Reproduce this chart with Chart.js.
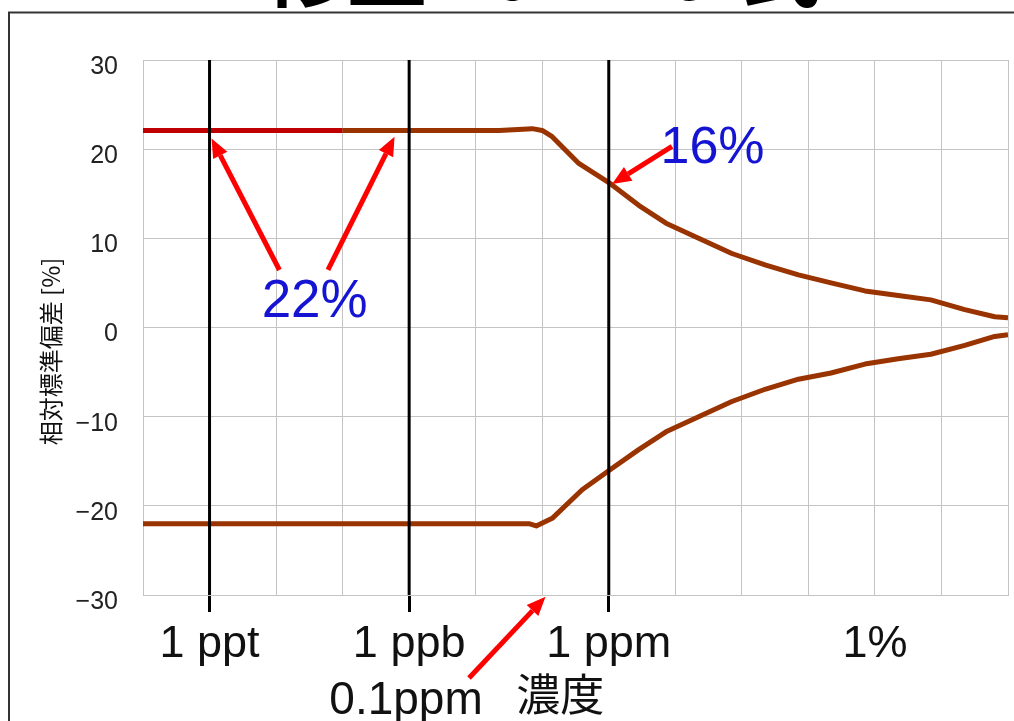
<!DOCTYPE html>
<html>
<head>
<meta charset="utf-8">
<script src="https://cdn.jsdelivr.net/npm/chart.js@4.4.1/dist/chart.umd.min.js"></script>
<style>
  html, body { margin: 0; padding: 0; background: #fff; }
  canvas { display: block; }
</style>
</head>
<body>
<canvas id="rsdChart" width="1014" height="721"></canvas>
<script>
// x = log10 of concentration (mass fraction): -12 = 1 ppt, -9 = 1 ppb, -6 = 1 ppm, -2 = 1%
const upperExp = [-13, -10, -7.65, -7.15, -7.0, -6.85, -6.45, -5.97, -5.55, -5.14, -4.65, -4.15, -3.64, -3.15, -2.66, -2.15, -1.65, -1.16, -0.65, -0.2, 0];
const upperRsd = [22.1, 22.1, 22.1, 22.3, 22.1, 21.4, 18.4, 16.1, 13.7, 11.7, 10.0, 8.3, 7.0, 5.9, 5.0, 4.1, 3.6, 3.1, 2.0, 1.2, 1.1];
const lowerExp = [-13, -7.2, -7.09, -6.85, -6.4, -5.97, -5.55, -5.14, -4.65, -4.15, -3.64, -3.15, -2.66, -2.15, -1.65, -1.16, -0.65, -0.2, 0];
const lowerRsd = [-22.0, -22.0, -22.25, -21.4, -18.2, -15.9, -13.7, -11.7, -10.0, -8.3, -6.9, -5.8, -5.1, -4.1, -3.5, -3.0, -2.0, -1.0, -0.8];

const markExp = [-12, -9, -6];
const tickLabels = { '-12': '1 ppt', '-9': '1 ppb', '-6': '1 ppm', '-2': '1%' };
const xMin = -13, xMax = 0;
const yMin = -30, yMax = 30;

const RED = '#c00000';
const BROWN = '#993300';
const GRID = '#c4c4c4';

// callouts, in data units
const arrows = [
    { from: [-10.95, 6.45], to: [-11.97, 21.2] },
    { from: [-10.22, 6.45], to: [-9.22, 21.4] },
    { from: [-5.05, 20.3], to: [-5.95, 16.1] },
    { from: [-8.1, -39.3], to: [-6.95, -30.2] }
];
const notes = [
    { text: '22%', at: [-10.42, 2.8], color: '#1414d2', size: 53, align: 'center', base: 'middle', family: 'Liberation Sans' },
    { text: '16%', at: [-4.44, 20.1], color: '#1414d2', size: 52, align: 'center', base: 'middle', family: 'Liberation Sans' },
    { text: '0.1ppm', at: [-10.2, -43.4], color: '#111', size: 46, align: 'left', base: 'alphabetic', family: 'Liberation Sans' },
    { text: '濃度', at: [-7.39, -43.0], color: '#111', size: 44, align: 'left', base: 'alphabetic', family: '"Noto Sans CJK JP"' }
];

function toPoints(xs, ys) {
    return xs.map((x, i) => ({ x: x, y: ys[i] }));
}

function drawArrow(ctx, x1, y1, x2, y2) {
    const ang = Math.atan2(y2 - y1, x2 - x1);
    const head = 19, half = 8;
    const bx = x2 - head * Math.cos(ang);
    const by = y2 - head * Math.sin(ang);
    ctx.strokeStyle = '#ff0000';
    ctx.fillStyle = '#ff0000';
    ctx.lineWidth = 5;
    ctx.beginPath();
    ctx.moveTo(x1, y1);
    ctx.lineTo(bx, by);
    ctx.stroke();
    ctx.beginPath();
    ctx.moveTo(x2, y2);
    ctx.lineTo(bx + half * Math.sin(ang), by - half * Math.cos(ang));
    ctx.lineTo(bx - half * Math.sin(ang), by + half * Math.cos(ang));
    ctx.closePath();
    ctx.fill();
}

const annotate = {
    id: 'annotate',
    beforeDraw(chart) {
        const ctx = chart.ctx;
        ctx.save();
        ctx.fillStyle = '#fff';
        ctx.fillRect(0, 0, chart.width, chart.height);
        // slide frame
        ctx.strokeStyle = '#333';
        ctx.lineWidth = 2;
        ctx.strokeRect(9, 12.5, chart.width + 40, chart.height + 40);
        // slide heading, cut off at the top
        ctx.fillStyle = '#000';
        ctx.font = 'bold 80px "Noto Sans CJK JP"';
        ctx.textAlign = 'center';
        ctx.textBaseline = 'alphabetic';
        ctx.fillText('修正Horwitz式', 544, 0);
        ctx.restore();
    },
    afterDraw(chart) {
        const ctx = chart.ctx;
        const xs = chart.scales.x, ys = chart.scales.y;
        ctx.save();
        arrows.forEach(a => {
            drawArrow(ctx,
                xs.getPixelForValue(a.from[0]), ys.getPixelForValue(a.from[1]),
                xs.getPixelForValue(a.to[0]), ys.getPixelForValue(a.to[1]));
        });
        notes.forEach(n => {
            ctx.fillStyle = n.color;
            ctx.font = n.size + 'px ' + n.family;
            ctx.textAlign = n.align;
            ctx.textBaseline = n.base;
            ctx.fillText(n.text, xs.getPixelForValue(n.at[0]), ys.getPixelForValue(n.at[1]));
        });
        ctx.restore();
    }
};

const ctx = document.getElementById('rsdChart').getContext('2d');

new Chart(ctx, {
    type: 'line',
    data: {
        datasets: [
            ...markExp.map(e => ({
                data: [{ x: e, y: yMin }, { x: e, y: yMax }],
                borderColor: '#000',
                borderWidth: 3,
                pointRadius: 0,
                order: 0
            })),
            {
                data: toPoints(upperExp, upperRsd),
                borderColor: BROWN,
                segment: {
                    borderColor: c => c.p1.parsed.x <= -10 ? RED : BROWN
                },
                borderWidth: 5,
                borderJoinStyle: 'round',
                pointRadius: 0,
                order: 1
            },
            {
                data: toPoints(lowerExp, lowerRsd),
                borderColor: BROWN,
                borderWidth: 5,
                borderJoinStyle: 'round',
                pointRadius: 0,
                order: 1
            }
        ]
    },
    options: {
        responsive: false,
        animation: false,
        layout: { padding: { top: 60, right: 4, left: 20, bottom: 0 } },
        plugins: {
            legend: { display: false },
            tooltip: { enabled: false }
        },
        scales: {
            x: {
                type: 'linear',
                min: xMin,
                max: xMax,
                afterFit: s => { s.height = 126; },
                ticks: {
                    stepSize: 1,
                    autoSkip: false,
                    maxRotation: 0,
                    padding: 6,
                    color: '#111',
                    font: { family: 'Liberation Sans', size: 45 },
                    callback: v => tickLabels[v] || ''
                },
                grid: {
                    color: GRID,
                    lineWidth: 1,
                    tickLength: 17,
                    tickColor: c => markExp.includes(c.tick.value) ? '#000' : 'rgba(0,0,0,0)',
                    tickWidth: 3
                },
                border: { color: GRID }
            },
            y: {
                min: yMin,
                max: yMax,
                afterFit: s => { s.width = 123; },
                ticks: {
                    stepSize: 10,
                    padding: 25,
                    labelOffset: 7,
                    color: '#222',
                    font: { family: 'Liberation Sans', size: 25 },
                    callback: v => String(v).replace('-', '\u2212')
                },
                grid: { color: GRID, drawTicks: false },
                border: { color: GRID },
                title: {
                    display: true,
                    text: '相対標準偏差 [%]\u3000\u3000',
                    color: '#111',
                    font: { family: '"Noto Sans CJK JP"', size: 24 },
                    padding: { top: 16, bottom: 0 }
                }
            }
        }
    },
    plugins: [annotate]
});
</script>
</body>
</html>
